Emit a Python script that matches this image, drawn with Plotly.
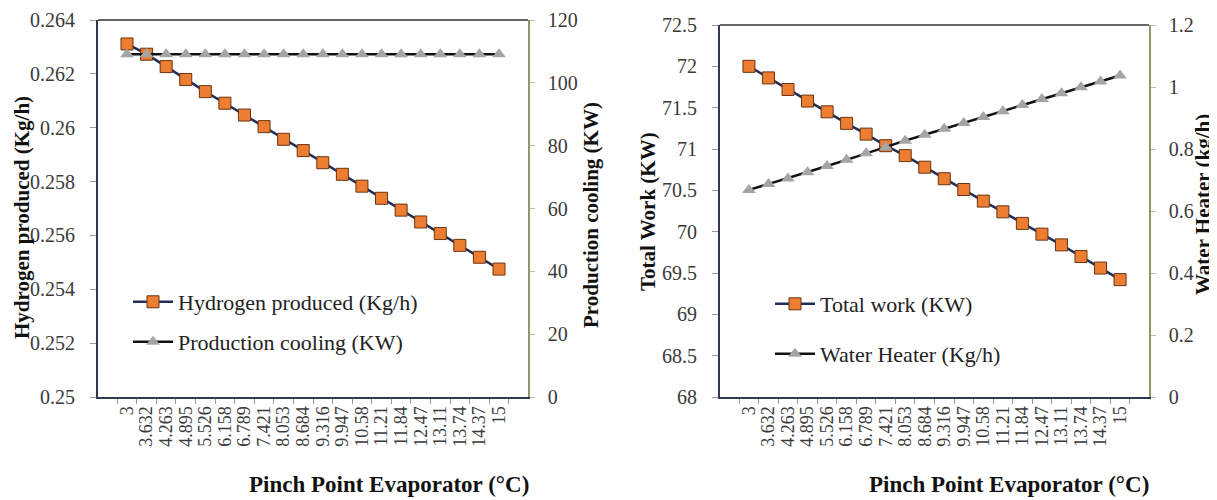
import plotly.graph_objects as go
from plotly.subplots import make_subplots

categories = ["3", "3.632", "4.263", "4.895", "5.526", "6.158", "6.789", "7.421", "8.053", "8.684",
              "9.316", "9.947", "10.58", "11.21", "11.84", "12.47", "13.11", "13.74", "14.37", "15"]

hydrogen = [0.26311, 0.26273, 0.26227, 0.26179, 0.26134, 0.26091, 0.26047, 0.26004, 0.25957, 0.25915,
            0.25870, 0.25827, 0.25783, 0.25738, 0.25694, 0.25650, 0.25607, 0.25563, 0.25519, 0.25475]
cooling = [109.1] * 20

total_work = [72.00, 71.86, 71.72, 71.58, 71.45, 71.31, 71.18, 71.04, 70.92, 70.78,
              70.64, 70.51, 70.37, 70.24, 70.10, 69.97, 69.84, 69.70, 69.56, 69.42]
water_heater = [0.668, 0.687, 0.705, 0.725, 0.745, 0.765, 0.786, 0.806, 0.827, 0.846,
                0.865, 0.884, 0.903, 0.922, 0.942, 0.961, 0.980, 0.999, 1.018, 1.037]

FONT = '"Liberation Serif", "Times New Roman", Times, serif'
NAVY = "#1F2F5A"
ORANGE = "#ED7D31"
GRAY = "#A5A5A5"
AXIS_DARK = "#2F3A4F"
AXIS_GREEN = "#8A9A6A"
TICK_COL = "#3A3A3A"

# page body has an 8px margin, so the figure is offset by 8px
OFF = 8
W, H = 1217 - OFF, 500 - OFF


def px(x):
    return (x - OFF) / W


def py(y):
    return 1 - (y - OFF) / H


fig = make_subplots(rows=1, cols=2, specs=[[{"secondary_y": True}, {"secondary_y": True}]])

sq_marker = dict(symbol="square", size=12, color=ORANGE, line=dict(color="#6A3410", width=1))
tri_marker = dict(symbol="triangle-up", size=12, color=GRAY)

fig.add_trace(go.Scatter(x=categories, y=hydrogen, name="Hydrogen produced (Kg/h)", mode="lines+markers",
                         line=dict(color=NAVY, width=2.5), marker=sq_marker,
                         legend="legend"), row=1, col=1, secondary_y=False)
fig.add_trace(go.Scatter(x=categories, y=cooling, name="Production cooling (KW)", mode="lines+markers",
                         line=dict(color="#111111", width=2.5), marker=tri_marker,
                         legend="legend2"), row=1, col=1, secondary_y=True)
fig.add_trace(go.Scatter(x=categories, y=total_work, name="Total work (KW)", mode="lines+markers",
                         line=dict(color=NAVY, width=2.5), marker=sq_marker,
                         legend="legend3"), row=1, col=2, secondary_y=False)
fig.add_trace(go.Scatter(x=categories, y=water_heater, name="Water Heater (Kg/h)", mode="lines+markers",
                         line=dict(color="#111111", width=2.5), marker=tri_marker,
                         legend="legend4"), row=1, col=2, secondary_y=True)

L1, R1 = px(98), px(528)
L2, R2 = px(720), px(1149)
B = py(397)
T1 = py(20)
T2 = py(25)

tickfont = dict(family=FONT, size=20, color=TICK_COL)
xtickfont = dict(family=FONT, size=18, color=TICK_COL)

common_x = dict(type="category", tickangle=-90, tickson="boundaries", ticks="outside", ticklen=5,
                tickcolor="#9A9A9A", showline=True, linecolor=AXIS_DARK, linewidth=2, dtick=1,
                showgrid=False, tickfont=xtickfont, zeroline=False, mirror=False, automargin=False)

left_y = dict(showgrid=False, zeroline=False, showline=True, linecolor=AXIS_DARK, linewidth=2,
              ticks="outside", ticklen=6, tickcolor="#9A9A9A", tickfont=tickfont,
              ticklabelstandoff=11, automargin=False)
right_y = dict(showgrid=False, zeroline=False, showline=True, linecolor=AXIS_GREEN, linewidth=1.5,
               ticks="outside", ticklen=5, tickcolor="#B8C79A", tickfont=tickfont,
               ticklabelstandoff=9, automargin=False)

legend_font = dict(family=FONT, size=22, color="#222222")


def leg(x, y):
    return dict(x=px(x), y=py(y), xanchor="left", yanchor="middle", bgcolor="rgba(0,0,0,0)",
                font=legend_font, itemwidth=40, borderwidth=0)


fig.update_layout(
    width=W, height=H,
    margin=dict(l=0, r=0, t=0, b=0, autoexpand=False),
    paper_bgcolor="white", plot_bgcolor="white",
    font=dict(family=FONT),
    xaxis=dict(domain=[L1, R1], **common_x),
    xaxis2=dict(domain=[L2, R2], **common_x),
    yaxis=dict(domain=[B, T1], range=[0.25, 0.264], dtick=0.002, **left_y),
    yaxis2=dict(range=[0, 120], dtick=20, **right_y),
    yaxis3=dict(domain=[B, T2], range=[68, 72.5], dtick=0.5, **left_y),
    yaxis4=dict(range=[0, 1.2], dtick=0.2, **right_y),
    legend=leg(128, 302),
    legend2=leg(128, 342),
    legend3=leg(770, 304),
    legend4=leg(770, 354),
    showlegend=True,
)

# top border of each plot area
for (x0, x1, yt) in [(L1, R1, T1), (L2, R2, T2)]:
    fig.add_shape(type="line", xref="paper", yref="paper", x0=x0, x1=x1, y0=yt, y1=yt,
                  line=dict(color="#333333", width=1.5))

title_font = dict(family=FONT, size=21, color="#111111")
xtitle_font = dict(family=FONT, size=23, color="#111111")
annots = [
    dict(text="<b>Hydrogen produced (Kg/h)</b>", x=px(22), y=py(218), textangle=-90, font=title_font),
    dict(text="<b>Production cooling (KW)</b>", x=px(591), y=py(215), textangle=-90, font=title_font),
    dict(text="<b>Total Work (KW)</b>", x=px(648), y=py(212), textangle=-90, font=title_font),
    dict(text="<b>Water Heater (kg/h)</b>", x=px(1203), y=py(205), textangle=-90, font=title_font),
    dict(text="<b>Pinch Point Evaporator (°C)</b>", x=px(389), y=py(484), textangle=0, font=xtitle_font),
    dict(text="<b>Pinch Point Evaporator (°C)</b>", x=px(1009), y=py(484), textangle=0, font=xtitle_font),
]
for a in annots:
    fig.add_annotation(xref="paper", yref="paper", showarrow=False,
                       xanchor="center", yanchor="middle", **a)

fig.write_html("out.html")
